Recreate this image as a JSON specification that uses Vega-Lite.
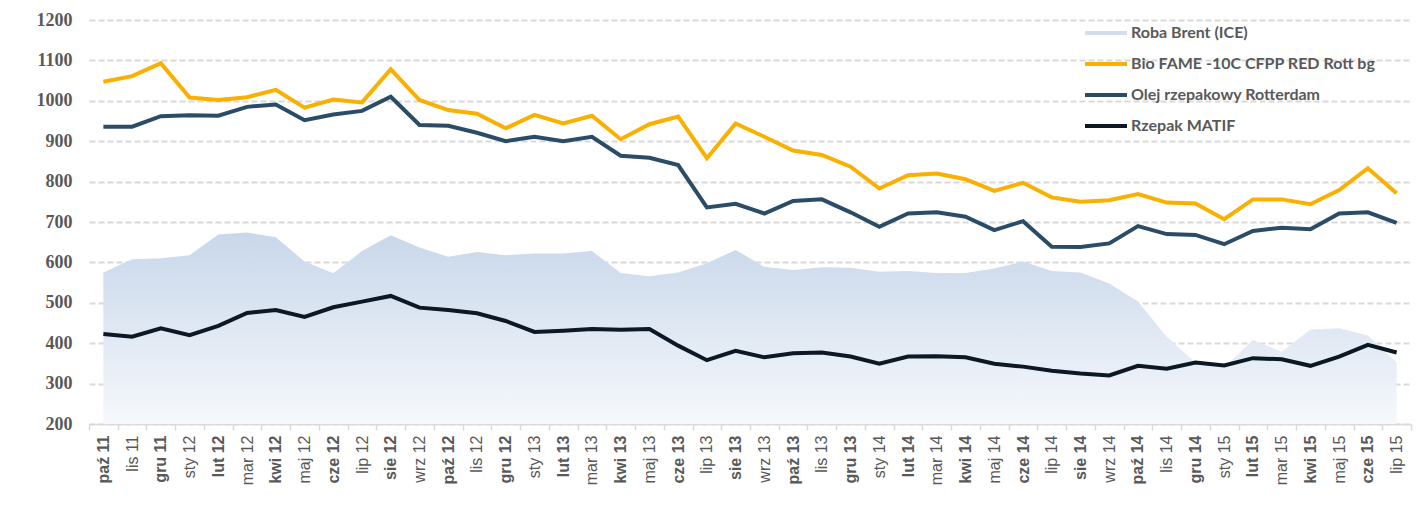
{
  "$schema": "https://vega.github.io/schema/vega-lite/v6.json",
  "width": 1322,
  "height": 404,
  "autosize": {"type": "none"},
  "padding": {"left": 89, "top": 20, "right": 10, "bottom": 82},
  "background": "white",
  "config": {"view": {"stroke": null}, "font": "Liberation Sans"},
  "data": {"values": [
    {"m": "paź 11", "brent": 575, "fame": 1047, "olej": 936, "rzepak": 423},
    {"m": "lis 11", "brent": 608, "fame": 1061, "olej": 936, "rzepak": 416},
    {"m": "gru 11", "brent": 610, "fame": 1093, "olej": 962, "rzepak": 437},
    {"m": "sty 12", "brent": 618, "fame": 1008, "olej": 964, "rzepak": 420},
    {"m": "lut 12", "brent": 669, "fame": 1002, "olej": 963, "rzepak": 443},
    {"m": "mar 12", "brent": 674, "fame": 1009, "olej": 985, "rzepak": 475},
    {"m": "kwi 12", "brent": 662, "fame": 1027, "olej": 991, "rzepak": 482},
    {"m": "maj 12", "brent": 602, "fame": 983, "olej": 952, "rzepak": 465},
    {"m": "cze 12", "brent": 573, "fame": 1003, "olej": 966, "rzepak": 489},
    {"m": "lip 12", "brent": 628, "fame": 996, "olej": 975, "rzepak": 503},
    {"m": "sie 12", "brent": 667, "fame": 1078, "olej": 1010, "rzepak": 517},
    {"m": "wrz 12", "brent": 637, "fame": 1002, "olej": 940, "rzepak": 488},
    {"m": "paź 12", "brent": 614, "fame": 977, "olej": 938, "rzepak": 482},
    {"m": "lis 12", "brent": 626, "fame": 968, "olej": 921, "rzepak": 474},
    {"m": "gru 12", "brent": 618, "fame": 932, "olej": 900, "rzepak": 455},
    {"m": "sty 13", "brent": 622, "fame": 965, "olej": 911, "rzepak": 428},
    {"m": "lut 13", "brent": 622, "fame": 944, "olej": 900, "rzepak": 431},
    {"m": "mar 13", "brent": 628, "fame": 963, "olej": 911, "rzepak": 435},
    {"m": "kwi 13", "brent": 574, "fame": 905, "olej": 864, "rzepak": 433},
    {"m": "maj 13", "brent": 566, "fame": 942, "olej": 859, "rzepak": 435},
    {"m": "cze 13", "brent": 575, "fame": 961, "olej": 841, "rzepak": 394},
    {"m": "lip 13", "brent": 598, "fame": 858, "olej": 736, "rzepak": 358},
    {"m": "sie 13", "brent": 631, "fame": 944, "olej": 745, "rzepak": 381},
    {"m": "wrz 13", "brent": 589, "fame": 911, "olej": 721, "rzepak": 365},
    {"m": "paź 13", "brent": 581, "fame": 877, "olej": 752, "rzepak": 375},
    {"m": "lis 13", "brent": 588, "fame": 866, "olej": 756, "rzepak": 377},
    {"m": "gru 13", "brent": 587, "fame": 837, "olej": 724, "rzepak": 367},
    {"m": "sty 14", "brent": 577, "fame": 783, "olej": 688, "rzepak": 349},
    {"m": "lut 14", "brent": 579, "fame": 816, "olej": 721, "rzepak": 367},
    {"m": "mar 14", "brent": 574, "fame": 820, "olej": 724, "rzepak": 368},
    {"m": "kwi 14", "brent": 574, "fame": 806, "olej": 713, "rzepak": 365},
    {"m": "maj 14", "brent": 585, "fame": 777, "olej": 680, "rzepak": 349},
    {"m": "cze 14", "brent": 602, "fame": 797, "olej": 702, "rzepak": 342},
    {"m": "lip 14", "brent": 579, "fame": 761, "olej": 639, "rzepak": 332},
    {"m": "sie 14", "brent": 575, "fame": 750, "olej": 638, "rzepak": 325},
    {"m": "wrz 14", "brent": 548, "fame": 754, "olej": 647, "rzepak": 320},
    {"m": "paź 14", "brent": 503, "fame": 769, "olej": 690, "rzepak": 344},
    {"m": "lis 14", "brent": 416, "fame": 748, "olej": 670, "rzepak": 337},
    {"m": "gru 14", "brent": 352, "fame": 746, "olej": 668, "rzepak": 352},
    {"m": "sty 15", "brent": 340, "fame": 707, "olej": 645, "rzepak": 345},
    {"m": "lut 15", "brent": 408, "fame": 756, "olej": 678, "rzepak": 363},
    {"m": "mar 15", "brent": 379, "fame": 756, "olej": 686, "rzepak": 360},
    {"m": "kwi 15", "brent": 434, "fame": 744, "olej": 682, "rzepak": 344},
    {"m": "maj 15", "brent": 437, "fame": 779, "olej": 721, "rzepak": 367},
    {"m": "cze 15", "brent": 419, "fame": 833, "olej": 724, "rzepak": 396},
    {"m": "lip 15", "brent": 352, "fame": 771, "olej": 698, "rzepak": 377}
  ]},
  "encoding": {
    "x": {
      "field": "m",
      "type": "ordinal",
      "sort": null,
      "title": null,
      "scale": {"type": "band", "paddingInner": 0, "paddingOuter": 0},
      "axis": {
        "tickBand": "extent",
        "labelAngle": -90,
        "labelFont": "Liberation Sans",
        "labelFontSize": 16,
        "labelColor": "#595959",
        "labelFontWeight": {"condition": {"test": "indexof(['paź 11','gru 11','lut 12','kwi 12','cze 12','sie 12','paź 12','gru 12','lut 13','kwi 13','cze 13','sie 13','paź 13','gru 13','lut 14','kwi 14','cze 14','sie 14','paź 14','gru 14','lut 15','kwi 15','cze 15'], datum.value) >= 0", "value": "bold"}, "value": "normal"},
        "labelPadding": 5,
        "domainColor": "#D9D9D9",
        "domainWidth": 1.5,
        "tickColor": "#D9D9D9",
        "tickWidth": 1.5,
        "tickSize": 6,
        "grid": false
      }
    }
  },
  "layer": [
    {
      "mark": {
        "type": "area",
        "fill": {
          "gradient": "linear",
          "x1": 0, "y1": 0, "x2": 0, "y2": 1,
          "stops": [
            {"offset": 0, "color": "#C8D7EA"},
            {"offset": 1, "color": "#F6F8FC"}
          ]
        }
      },
      "encoding": {
        "y": {
          "field": "brent",
          "type": "quantitative",
          "title": null,
          "scale": {"domain": [200, 1200], "zero": false},
          "axis": {
            "values": [200, 300, 400, 500, 600, 700, 800, 900, 1000, 1100, 1200],
            "format": "d",
            "domain": false,
            "ticks": false,
            "labelFont": "Liberation Serif",
            "labelFontSize": 18,
            "labelFontWeight": "bold",
            "labelColor": "#595959",
            "labelPadding": 17,
            "gridColor": "#D9D9D9",
            "gridWidth": 2,
            "gridDash": [6, 3]
          }
        },
        "y2": {"datum": 200}
      }
    },
    {
      "transform": [{"fold": ["fame", "olej", "rzepak"], "as": ["s", "v"]}],
      "mark": {"type": "line", "strokeWidth": 4},
      "encoding": {
        "y": {"field": "v", "type": "quantitative"},
        "color": {
          "field": "s",
          "type": "nominal",
          "scale": {
            "domain": ["brent", "fame", "olej", "rzepak"],
            "range": ["#D3DEED", "#F9B000", "#2B4C66", "#0C1824"]
          },
          "legend": {
            "orient": "none",
            "legendX": 994,
            "legendY": -10,
            "title": null,
            "symbolType": "stroke",
            "symbolSize": 1764,
            "symbolStrokeWidth": 4,
            "labelFont": "Lato",
            "labelFontSize": 16,
            "labelFontWeight": "bold",
            "labelColor": "#595959",
            "labelOffset": 2,
            "labelLimit": 0,
            "rowPadding": 0,
            "labelExpr": "datum.value === 'brent' ? 'Roba Brent (ICE)' : datum.value === 'fame' ? 'Bio FAME -10C CFPP RED Rott bg' : datum.value === 'olej' ? 'Olej rzepakowy Rotterdam' : 'Rzepak MATIF'"
          }
        }
      }
    }
  ]
}
